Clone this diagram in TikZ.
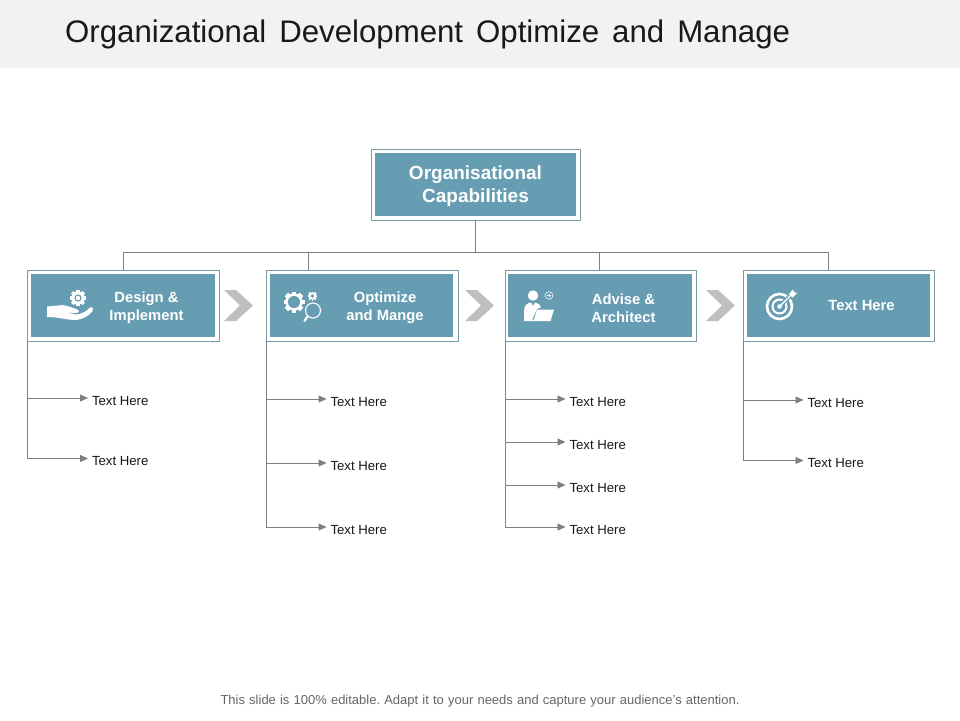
\documentclass[tikz,border=0pt]{standalone}
\usepackage{fontspec}
\setmainfont{Liberation Sans}
\usetikzlibrary{arrows.meta}
\definecolor{teal1}{HTML}{669DB2}
\definecolor{frame1}{HTML}{7B9AA5}
\definecolor{linegray}{HTML}{7F7F7F}
\definecolor{chev}{HTML}{BFBFBF}
\definecolor{band}{HTML}{F2F2F2}
\newcommand\gearicon[5]{%
  \foreach \a in {0,45,...,315}{\fill[#5,shift={(#1,#2)},rotate=\a] (-#3*0.22,-#3) rectangle (#3*0.22,#3);}
  \fill[#5] (#1,#2) circle ({#3*0.82});
  \fill[teal1] (#1,#2) circle ({#3*#4});
}
\tikzset{
  framebox/.style={draw=frame1,line width=0.9pt,fill=white,inner sep=0pt,outer sep=0pt},
  innerbox/.style={fill=teal1,inner sep=0pt,outer sep=0pt},
  boxlabel/.style={text=white,font=\bfseries\fontsize{14.8}{18}\selectfont,align=center,inner sep=0pt},
  toplabel/.style={text=white,font=\bfseries\fontsize{19}{23}\selectfont,align=center,inner sep=0pt},
  conn/.style={draw=linegray,line width=0.8pt},
  connarrow/.style={conn,-{Triangle[length=8pt,width=7pt,fill=linegray]}},
  itemtext/.style={anchor=west,inner ysep=0pt,inner xsep=4pt,outer sep=0pt,text=black!90,font=\fontsize{13.2}{15}\selectfont,text height=15pt,text depth=1pt},
  chevron/.style={fill=chev}
}
\begin{document}
\begin{tikzpicture}[x=1pt,y=-1pt]
\useasboundingbox (0,0) rectangle (960,720);
\fill[white] (0,0) rectangle (960,720);
\fill[band] (0,0) rectangle (960,68);
\node[anchor=west,inner sep=0pt,text=black!90,font=\fontsize{31.2}{36}\selectfont] (title) at (65,34) {\spaceskip=13pt Organizational Development Optimize and Manage};
\node[text=black!60,inner sep=0pt,font=\fontsize{13}{15}\selectfont] (foot) at (480,701.5) {\frenchspacing\spaceskip=4.15pt This slide is 100\% editable. Adapt it to your needs and capture your audience's attention.};

% boxes
\node[framebox,minimum width=209pt,minimum height=71pt] (top) at (475.5,184.5) {};
\node[innerbox,minimum width=201pt,minimum height=63pt] (topin) at (475.5,184.5) {};
\node[toplabel] (toptxt) at (475.5,186.5) {Organisational\\Capabilities};

\node[framebox,minimum width=192pt,minimum height=71pt] (b1) at (123,305.5) {};
\node[innerbox,minimum width=184pt,minimum height=63pt] (b1in) at (123,305.5) {};
\node[boxlabel] (b1txt) at (146.5,308) {Design \&\\Implement};

\node[framebox,minimum width=192pt,minimum height=71pt] (b2) at (362,305.5) {};
\node[innerbox,minimum width=183pt,minimum height=63pt] (b2in) at (361.5,305.5) {};
\node[boxlabel] (b2txt) at (385,308) {Optimize\\and Mange};

\node[framebox,minimum width=191pt,minimum height=71pt] (b3) at (600.5,305.5) {};
\node[innerbox,minimum width=184pt,minimum height=63pt] (b3in) at (600,305.5) {};
\node[boxlabel] (b3txt) at (623.5,308) {Advise \&\\Architect};

\node[framebox,minimum width=191pt,minimum height=71pt] (b4) at (838.5,305.5) {};
\node[innerbox,minimum width=183pt,minimum height=63pt] (b4in) at (838.5,305.5) {};
\node[boxlabel] (b4txt) at (861.5,305) {Text Here};

% bus
\coordinate (bus) at (top.south |- 0,252);
\coordinate (s1) at (123.5,252);
\coordinate (s2) at (308.5,252);
\coordinate (s3) at (599.5,252);
\coordinate (s4) at (828.5,252);
\draw[conn] (top.south) -- (bus);
\draw[conn] (s1) -- (s4);
\draw[conn] (s1) -- (s1 |- b1.north);
\draw[conn] (s2) -- (s2 |- b2.north);
\draw[conn] (s3) -- (s3 |- b3.north);
\draw[conn] (s4) -- (s4 |- b4.north);

% chevrons
\foreach \x in {224,465,706}{
  \fill[chevron] (\x,290) -- (\x+12,290) -- (\x+29,305.5) -- (\x+12,321) -- (\x,321) -- (\x+16,305.5) -- cycle;
}

% items
\node[itemtext] (t11) at (88,398) {Text Here};
\node[itemtext] (t12) at (88,458.5) {Text Here};
\node[itemtext] (t21) at (326.5,399) {Text Here};
\node[itemtext] (t22) at (326.5,463) {Text Here};
\node[itemtext] (t23) at (326.5,527) {Text Here};
\node[itemtext] (t31) at (565.5,399) {Text Here};
\node[itemtext] (t32) at (565.5,442) {Text Here};
\node[itemtext] (t33) at (565.5,485) {Text Here};
\node[itemtext] (t34) at (565.5,527) {Text Here};
\node[itemtext] (t41) at (803.5,400) {Text Here};
\node[itemtext] (t42) at (803.5,460.5) {Text Here};
\foreach \b/\t in {b1/t11,b1/t12,b2/t21,b2/t22,b2/t23,b3/t31,b3/t32,b3/t33,b3/t34,b4/t41,b4/t42}{
  \draw[connarrow] (\b.south west) |- (\t.west);
}

% icon 1: hand and gear
\gearicon{78}{298}{8}{0.45}{white}
\fill[white] (78,298) circle (2.2);
\fill[white] (47,306.5) -- (58,305.5) .. controls (64,304) and (70,307) .. (76,309)
  .. controls (80,310.5) and (80,313) .. (75,313) -- (67,312.5) -- (76,314.5)
  .. controls (82,314) and (87,311) .. (90,307.5) .. controls (93,306.5) and (94,309) .. (92.5,311)
  .. controls (89,316) and (82,320) .. (74,320) .. controls (66,320) and (60,317) .. (47,317) -- cycle;

% icon 2: gears and magnifier
\gearicon{294}{302}{10.5}{0.58}{white}
\gearicon{312.5}{296}{4.5}{0.4}{white}
\fill[teal1] (313,310.5) circle (9);
\draw[white,line width=1.1pt] (313,310.5) circle (7.5);
\draw[white,line width=2.2pt,line cap=round] (307.5,316.5) -- (304.5,321);

% icon 3: person with laptop
\fill[white] (533,295.5) circle (5.2);
\fill[white] (524,321) -- (524,311) .. controls (524,304.5) and (528,303) .. (531,302.5) -- (533,306) -- (535,302.5)
  .. controls (538,303) and (540,304.5) .. (541,307) -- (537,309) -- (532,320) -- (530,321) -- cycle;
\fill[white] (537,309.5) -- (554,309.5) -- (550.5,321) -- (530.5,321) -- (532,319.5) -- (534,319.5) -- cycle;
\draw[white,line width=0.6pt] (549,295.5) circle (3.8);
\draw[white,line width=0.6pt] (547.2,295.5) -- (550.8,295.5) (549,293.7) -- (549,297.3);

% icon 4: target
\draw[white,line width=2.6pt] (779.5,306.5) circle (12.5);
\draw[white,line width=2pt] (779.5,306.5) circle (7);
\fill[white] (779.5,306.5) circle (2.3);
\draw[teal1,line width=4pt] (781,305) -- (794,292);
\draw[white,line width=1.4pt] (780,306) -- (792,294);
\fill[white] (789,294) -- (793,289.5) -- (794,292) -- (797,293) -- (792.5,297.5) -- cycle;
\end{tikzpicture}
\end{document}
